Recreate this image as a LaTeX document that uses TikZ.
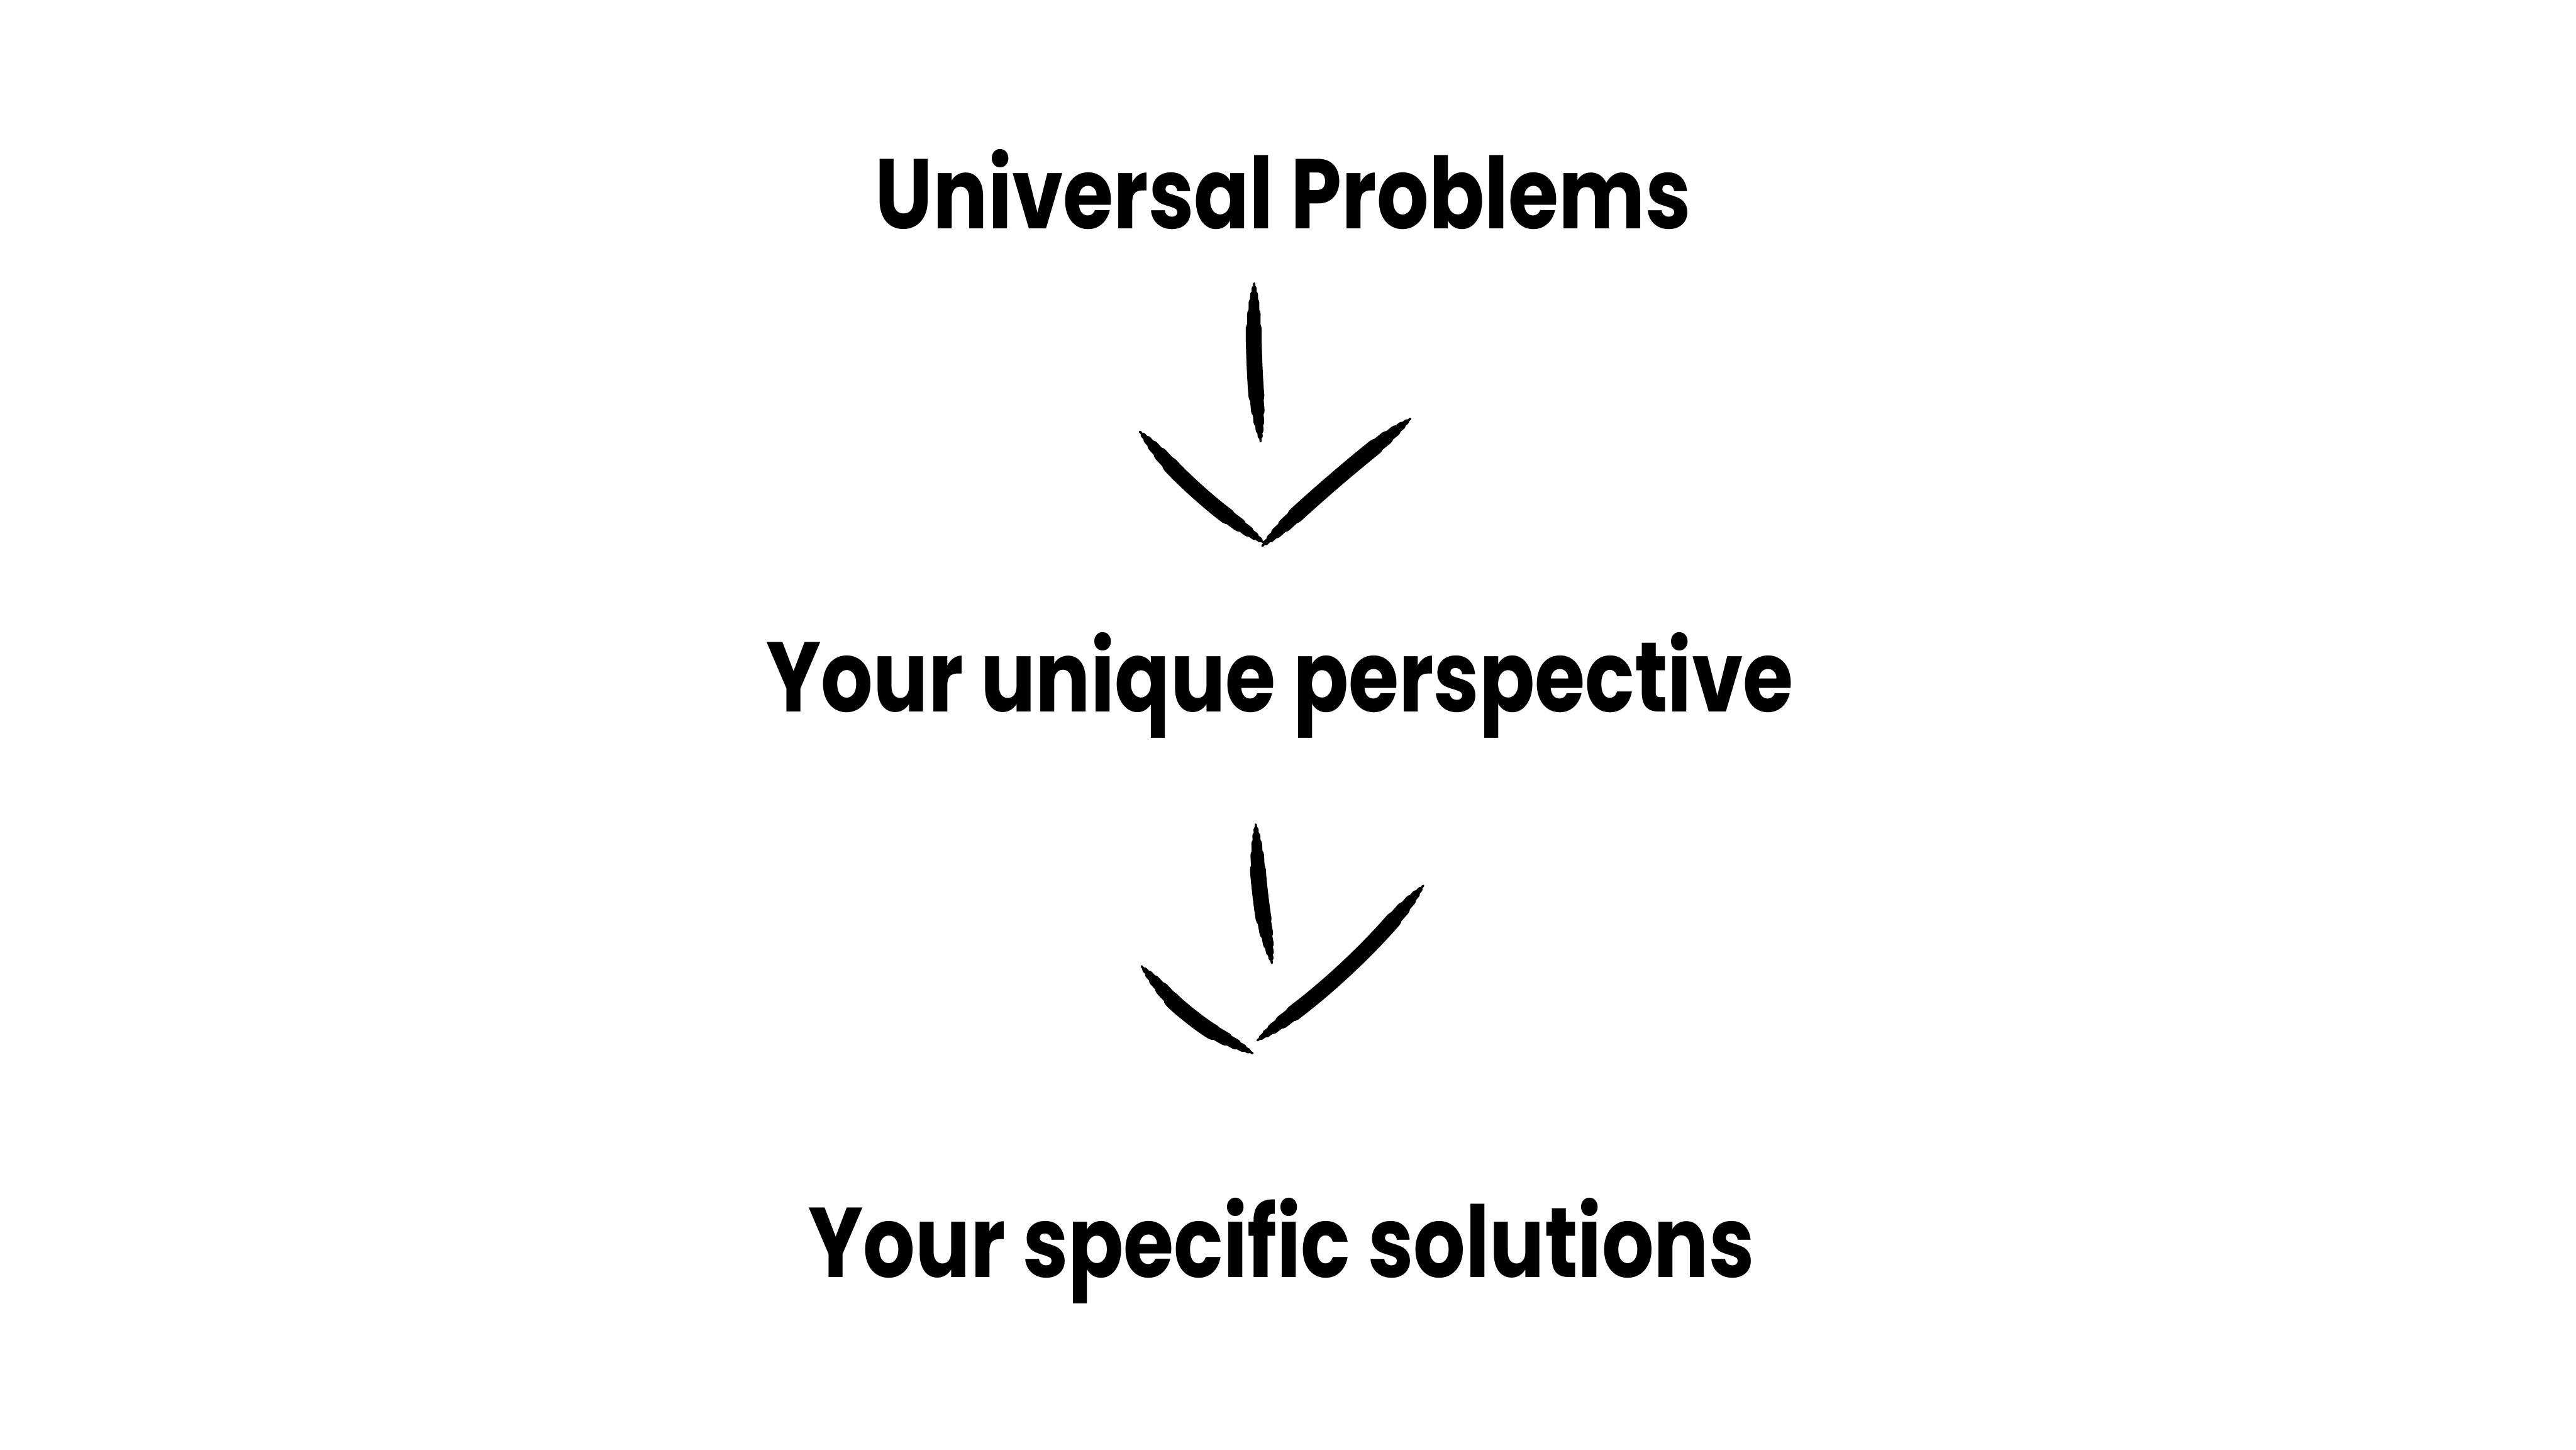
\documentclass[tikz,border=0pt]{standalone}
\usepackage{fontspec}
\setmainfont{Poppins}[FakeStretch=0.825]
\usetikzlibrary{positioning}

% tapered brush stroke: thin full line, thicker shortened cores
\newcommand{\brushstroke}[1]{%
  \foreach \w/\s in {0.4pt/0pt, 0.9pt/0.03cm, 1.4pt/0.07cm, 1.9pt/0.12cm, 2.4pt/0.19cm, 2.8pt/0.28cm}
    \draw[line width=\w, line cap=round, shorten <=\s, shorten >=\s] #1;%
}

\begin{document}
\begin{tikzpicture}[
  heading/.style={font=\bfseries\fontsize{17.5}{20}\selectfont, inner sep=0pt, anchor=base}
]
\useasboundingbox (0,0) rectangle (16,9);

\node[heading] (univ) at (7.97,7.58) {Universal Problems};
\node[heading] (persp) at (7.95,4.58) {Your unique perspective};
\node[heading] (sol) at (7.96,1.07) {Your specific solutions};

% first arrow
\coordinate (va) at (7.79,7.24);
\coordinate (vb) at (7.83,6.26);
\coordinate (la) at (7.08,6.32);
\coordinate (lb) at (7.85,5.63);
\coordinate (ra) at (7.84,5.61);
\coordinate (rb) at (8.76,6.40);
\brushstroke{(va) to[bend right=3] (vb)}
\brushstroke{(la) to[bend right=6] (lb)}
\brushstroke{(ra) to[bend left=2] (rb)}

% second arrow
\coordinate (vc) at (7.80,3.88);
\coordinate (vd) at (7.90,3.02);
\coordinate (lc) at (7.09,3.00);
\coordinate (ld) at (7.78,2.46);
\coordinate (rc) at (7.81,2.54);
\coordinate (rd) at (8.84,3.50);
\brushstroke{(vc) to[bend right=4] (vd)}
\brushstroke{(lc) to[bend right=10] (ld)}
\brushstroke{(rc) to[bend right=6] (rd)}
\end{tikzpicture}
\end{document}
